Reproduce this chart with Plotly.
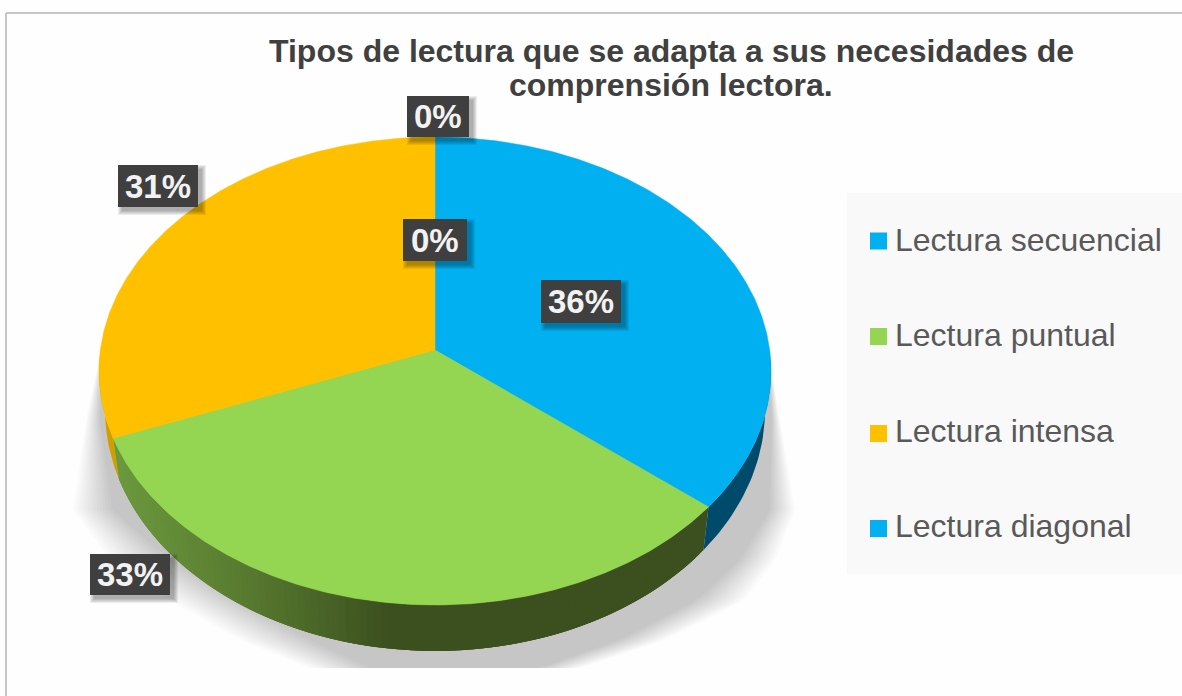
import numpy as np
import plotly.graph_objects as go

# ---- data ----
TITLE_LINES = ["Tipos de lectura que se adapta a sus necesidades de", "comprensión lectora."]
CATEGORIES = ["Lectura secuencial", "Lectura puntual", "Lectura intensa", "Lectura diagonal"]
VALUES = [36, 33, 31, 0]
COLORS = ["#00B0F0", "#94D552", "#FFC000", "#00B0F0"]
RIM_COLORS = ["#004A6B", None, "#D19E00", "#004A6B"]
LABEL_VALUES = [36, 33, 31, 0, 0]

# ---- layout constants (pixels of the 1182x696 canvas) ----
W, H = 1182, 696
APEX_X, APEX_Y, TOP_Y, BOTTOM_Y, RADIUS_X = 435.0, 350.0, 137.0, 605.0, 336.0
LABEL_BOXES = [(541, 621, 280, 323), (90, 170, 554, 595), (118, 198, 165, 207),
               (407, 469, 96, 137), (403, 467, 219, 261)]
TITLE_Y = [51, 85]
LEG_Y = [241, 336.5, 433.5, 528.5]
LEG_TEXT_Y = [240, 335, 431, 526]

# perspective projection of the unit circle onto the tilted pie top
c = (2 * APEX_Y - TOP_Y - BOTTOM_Y) / (TOP_Y - BOTTOM_Y)
A = TOP_Y * (1 + c) - APEX_Y
R = RADIUS_X * np.sqrt(1 - c * c)


def project(theta):
    u, v = np.sin(theta), np.cos(theta)
    d = 1 + c * v
    return APEX_X + R * u / d, (A * v + APEX_Y) / d


def to_rim(x, y):
    return APEX_X + 0.982 * (x - APEX_X), 550 + 1.03 * (y - 507)


def hex2rgb(h):
    return np.array([int(h[i:i + 2], 16) for i in (1, 3, 5)], float)


GREEN_STOPS_X = [118, 250, 390, 703]
GREEN_STOPS = [hex2rgb(h) for h in ("#6C9A3E", "#587A30", "#3C501F", "#3C501F")]


def green_rim(x):
    rgb = [np.interp(x, GREEN_STOPS_X, [s[i] for s in GREEN_STOPS]) for i in range(3)]
    return "rgb(%d,%d,%d)" % tuple(rgb)


fig = go.Figure()
total = sum(VALUES)
edges = np.cumsum([0] + VALUES) / total * 2 * np.pi

# rim strips (only the front half shows), then the top faces
for i, name in enumerate(CATEGORIES):
    if VALUES[i] == 0:
        continue
    a0, a1 = max(edges[i], np.pi / 2), min(edges[i + 1], 1.5 * np.pi)
    n = max(4, int((a1 - a0) / 0.02))
    th = np.linspace(a0, a1, n + 1)
    tx, ty = project(th)
    bx, by = to_rim(tx, ty)
    if RIM_COLORS[i]:
        fig.add_trace(go.Scatter(
            x=np.r_[tx, bx[::-1]], y=np.r_[ty, by[::-1]], mode="lines", fill="toself",
            fillcolor=RIM_COLORS[i], line=dict(width=0),
            hoverinfo="skip", showlegend=False))
    else:
        # painted right to left, every strip overlapping the next one so no seams show
        for k in range(n):
            e = min(k + 3, n)
            col = green_rim((bx[k] + bx[k + 1]) / 2)
            fig.add_trace(go.Scatter(
                x=np.r_[tx[k:e + 1], bx[k:e + 1][::-1]], y=np.r_[ty[k:e + 1], by[k:e + 1][::-1]],
                mode="lines", fill="toself", fillcolor=col, line=dict(width=0),
                hoverinfo="skip", showlegend=False))

for i, name in enumerate(CATEGORIES):
    if VALUES[i] == 0:
        continue
    th = np.linspace(edges[i], edges[i + 1], 240)
    tx, ty = project(th)
    fig.add_trace(go.Scatter(
        x=np.r_[APEX_X, tx, APEX_X], y=np.r_[APEX_Y, ty, APEX_Y], mode="lines", fill="toself",
        fillcolor=COLORS[i], line=dict(color=COLORS[i], width=0.5), name=name,
        text=f"{name}: {VALUES[i]}%", hoverinfo="text", showlegend=False))

# legend rows
for i, name in enumerate(CATEGORIES):
    fig.add_trace(go.Scatter(
        x=[878.5], y=[LEG_Y[i]], mode="markers", hoverinfo="skip", showlegend=False,
        marker=dict(symbol="square", size=17, color=COLORS[i])))

shapes = []
# frame
for x0, y0, x1, y1 in ((6, 13, 1182, 13), (6, 13, 6, 696)):
    shapes.append(dict(type="line", xref="x", yref="y", x0=x0, y0=y0, x1=x1, y1=y1,
                       line=dict(color="#C6C6C6", width=2), layer="below"))
# legend panel
shapes.append(dict(type="rect", xref="x", yref="y", x0=847, x1=1182, y0=193, y1=574,
                   fillcolor="#F9F9F9", line=dict(width=0), layer="below"))

# soft floor shadow built from stacked translucent outlines
S_Y = np.array([345, 420, 510, 560, 600, 640, 668], float)
L_OUT = np.array([102, 86, 73, 110, 170, 240, 310], float)
R_OUT = np.array([768, 780, 795, 775, 745, 665, 580], float)
L_IN = np.array([102, 100, 112, 170, 235, 310, 370], float)
R_IN = np.array([768, 772, 770, 740, 697, 620, 540], float)
yy = np.linspace(345, 668, 50)
LAYERS = 14
alpha = 1 - (1 - 0.21) ** (1 / LAYERS)
for k in range(LAYERS):
    t = k / (LAYERS - 1)
    lx = np.interp(yy, S_Y, L_OUT * (1 - t) + L_IN * t)
    rx = np.interp(yy, S_Y, R_OUT * (1 - t) + R_IN * t)
    pts = list(zip(lx, yy)) + list(zip(rx[::-1], yy[::-1]))
    path = "M" + "L".join(f"{a:.1f},{b:.1f}" for a, b in pts) + "Z"
    shapes.append(dict(type="path", xref="x", yref="y", path=path,
                       fillcolor=f"rgba(0,0,0,{alpha:.4f})", line=dict(width=0), layer="below"))

# data-label boxes with a small drop shadow to the lower right
annotations = []
for v, (x0, x1, y0, y1) in zip(LABEL_VALUES, LABEL_BOXES):
    for g in (4, 3, 2, 1, 0):
        shapes.append(dict(type="rect", xref="x", yref="y", x0=x0 + 4 - g, x1=x1 + 4 + g,
                           y0=y0 + 4 - g, y1=y1 + 4 + g, fillcolor="rgba(0,0,0,0.07)",
                           line=dict(width=0), layer="above"))
    shapes.append(dict(type="rect", xref="x", yref="y", x0=x0, x1=x1, y0=y0, y1=y1,
                       fillcolor="#3F3F3F", line=dict(width=0), layer="above"))
    annotations.append(dict(x=(x0 + x1) / 2, y=(y0 + y1) / 2, xref="x", yref="y", text=f"<b>{v}%</b>",
                            showarrow=False, font=dict(family="Liberation Sans", size=33, color="#F2F2F2")))
for i, name in enumerate(CATEGORIES):
    annotations.append(dict(x=893, y=LEG_TEXT_Y[i], xref="x", yref="y", text=name, showarrow=False,
                            xanchor="left", font=dict(family="Liberation Sans", size=32, color="#595959")))
for line, y in zip(TITLE_LINES, TITLE_Y):
    annotations.append(dict(x=671, y=y, xref="x", yref="y", text=f"<b>{line}</b>", showarrow=False,
                            font=dict(family="Liberation Sans", size=32, color="#404040")))

fig.update_layout(
    width=W, height=H, margin=dict(l=0, r=0, t=0, b=0),
    paper_bgcolor="#FEFEFE", plot_bgcolor="rgba(0,0,0,0)", showlegend=False,
    xaxis=dict(range=[0, W], visible=False, fixedrange=True),
    yaxis=dict(range=[H, 0], visible=False, fixedrange=True),
    shapes=shapes, annotations=annotations,
)
fig.write_html("out.html", config=dict(displayModeBar=False),
               post_script="document.body.style.margin='0';document.body.style.overflow='hidden';")
